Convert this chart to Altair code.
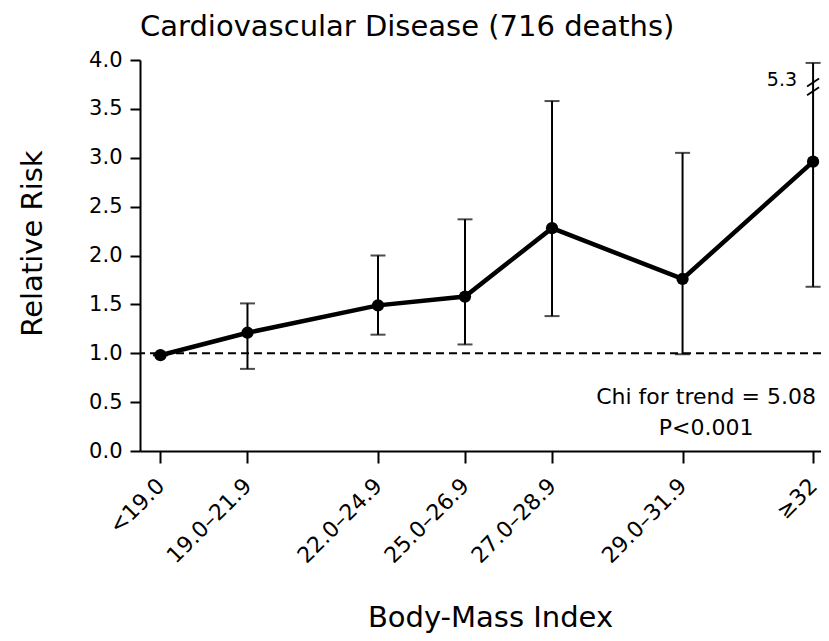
import altair as alt
import pandas as pd

# ---- data ----
categories = ["<19.0", "19.0\u201321.9", "22.0\u201324.9", "25.0\u201326.9",
              "27.0\u201328.9", "29.0\u201331.9", "\u226532"]
x_pos = [0, 1, 2.5, 3.5, 4.5, 6, 7.5]          # category spacing on the BMI axis
rr = [0.98, 1.21, 1.49, 1.58, 2.28, 1.76, 2.96]
lower = [0.98, 0.84, 1.19, 1.09, 1.38, 0.99, 1.68]
upper = [0.98, 1.51, 2.00, 2.37, 3.58, 3.05, 5.3]
axis_cap = 3.97                                  # upper bars above this are broken
break_y = [3.77, 3.68]
chi_text = ["Chi for trend = 5.08", "P<0.001"]
chi_y = [0.48, 0.16]
chi_x = 6.27
title_text = "Cardiovascular Disease (716 deaths)"

FONT = "DejaVu Sans"

df = pd.DataFrame({"cat": categories, "x": x_pos, "rr": rr, "lo": lower, "hi": upper})
label_expr = "{" + ",".join(f"'{p}':'{c}'" for p, c in zip(x_pos, categories)) + "}[datum.value]"

x_scale = alt.Scale(domain=[-0.235, 7.591], nice=False, zero=False)
y_scale = alt.Scale(domain=[0, 4], nice=False)

x_axis = alt.Axis(
    values=x_pos, labelExpr=label_expr, title="Body-Mass Index",
    labelAngle=-45, labelAlign="right", labelBaseline="middle",
    labelPadding=19, labelOffset=0, labelFontSize=22, labelFont=FONT,
    labelFlush=False, labelOverlap=False, labelBound=False, labelColor="black",
    tickSize=12, tickWidth=2, tickColor="black", domainWidth=2, domainColor="black",
    grid=False,
    titleFontSize=29, titleFont=FONT, titleFontWeight="normal", titleColor="black",
    titleX=350, titleY=175, titleAlign="center", titleBaseline="alphabetic",
)
y_axis = alt.Axis(
    values=[0, 0.5, 1, 1.5, 2, 2.5, 3, 3.5, 4], format=".1f", title="Relative Risk",
    labelFontSize=21, labelFont=FONT, labelPadding=8, labelColor="black",
    tickSize=10, tickWidth=2, tickColor="black", domainWidth=2, domainColor="black",
    grid=False,
    titleFontSize=29, titleFont=FONT, titleFontWeight="normal", titleColor="black",
    titleAngle=270, titleX=-99, titleY=183, titleAlign="center",
    titleBaseline="alphabetic",
)

base = alt.Chart(df)

ref = alt.Chart(pd.DataFrame({"y": [1.0]})).mark_rule(
    color="black", strokeWidth=1.8, strokeDash=[8, 5]
).encode(y=alt.Y("y:Q", scale=y_scale, axis=y_axis))

bars = base.transform_calculate(
    hi_draw=f"min(datum.hi, {axis_cap})"
).mark_rule(color="black", strokeWidth=2).encode(
    x=alt.X("x:Q", scale=x_scale, axis=x_axis),
    y=alt.Y("lo:Q", scale=y_scale),
    y2="hi_draw:Q",
)
caps_lo = base.mark_tick(color="black", orient="horizontal", size=15, thickness=2).encode(
    x=alt.X("x:Q", scale=x_scale), y=alt.Y("lo:Q", scale=y_scale)
)
caps_hi = base.transform_calculate(
    hi_draw=f"min(datum.hi, {axis_cap})"
).mark_tick(color="black", orient="horizontal", size=15, thickness=2).encode(
    x=alt.X("x:Q", scale=x_scale), y=alt.Y("hi_draw:Q", scale=y_scale)
)
line = base.mark_line(color="black", strokeWidth=4.5).encode(
    x=alt.X("x:Q", scale=x_scale), y=alt.Y("rr:Q", scale=y_scale)
)
pts = base.mark_circle(color="black", size=150, opacity=1).encode(
    x=alt.X("x:Q", scale=x_scale), y=alt.Y("rr:Q", scale=y_scale)
)

brk_df = pd.DataFrame({"x": [x_pos[-1]] * len(break_y), "y": break_y})
breaks = alt.Chart(brk_df).mark_rule(
    color="black", strokeWidth=1.8, xOffset=-6, x2Offset=6, yOffset=4, y2Offset=-4
).encode(
    x=alt.X("x:Q", scale=x_scale), x2="x:Q",
    y=alt.Y("y:Q", scale=y_scale), y2="y:Q",
)
top_df = pd.DataFrame({"x": [x_pos[-1]], "y": [break_y[0] - 0.04], "t": [f"{upper[-1]:.1f}"]})
top_label = alt.Chart(top_df).mark_text(
    font=FONT, fontSize=19, align="right", baseline="alphabetic", dx=-16, color="black"
).encode(x=alt.X("x:Q", scale=x_scale), y=alt.Y("y:Q", scale=y_scale), text="t:N")

chi_df = pd.DataFrame({"x": [chi_x] * 2, "y": chi_y, "t": chi_text})
chi = alt.Chart(chi_df).mark_text(
    font=FONT, fontSize=22, align="center", baseline="alphabetic", color="black"
).encode(x=alt.X("x:Q", scale=x_scale), y=alt.Y("y:Q", scale=y_scale), text="t:N")

title = alt.Chart(pd.DataFrame({"t": [title_text]})).mark_text(
    font=FONT, fontSize=29, align="left", baseline="alphabetic", color="black"
).encode(x=alt.value(0), y=alt.value(-24), text="t:N")

chart = alt.layer(ref, bars, caps_lo, caps_hi, line, pts, breaks, top_label, chi, title).properties(
    width=681, height=391,
    autosize=alt.AutoSizeParams(type="none"),
    padding={"left": 132, "top": 52, "right": 0, "bottom": 182},
).configure(background="white").configure_view(stroke=None)

chart.save("out.html", embed_options={"renderer": "svg", "actions": False})
